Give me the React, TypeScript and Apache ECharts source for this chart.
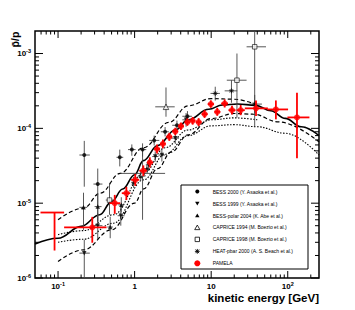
import React, { useEffect, useRef } from 'react';
import * as echarts from 'echarts';

// ---------- axes ----------
const X_MIN = 0.05;
const X_MAX = 256;
const Y_MIN = 1e-6;
const Y_MAX = 2e-3;
const X_MAJOR_TICKS = [0.1, 1, 10, 100];
const Y_MAJOR_TICKS = [1e-6, 1e-5, 1e-4, 1e-3];

// ---------- data: [E, ratio, E_lo, E_hi, ratio_lo, ratio_hi] ----------
const BESS_2000 = [
  [0.22, 4.4e-5, 0.19, 0.26, 1.66e-5, 6.8e-5],
  [0.33, 1.8e-5, 0.29, 0.38, 5.7e-6, 2.9e-5],
  [0.64, 4.1e-5, 0.58, 0.71, 3.1e-5, 5.2e-5],
  [0.92, 5.2e-5, 0.82, 1.03, 4.3e-5, 6.1e-5],
  [1.27, 5.2e-5, 1.12, 1.42, 4.2e-5, 6.3e-5],
  [1.8, 6.9e-5, 1.55, 2.1, 5.9e-5, 8.0e-5],
  [2.5, 9.0e-5, 2.2, 2.8, 7.8e-5, 1.04e-4],
  [3.57, 1.1e-4, 3.1, 4.1, 9.6e-5, 1.27e-4],
  [4.9, 1.45e-4, 4.2, 5.6, 1.25e-4, 1.7e-4],
];
const BESS_1999 = [
  [0.22, 2.15e-6, 0.19, 0.26, 1.0e-6, 3.25e-6],
  [0.33, 5.0e-6, 0.29, 0.38, 3.3e-6, 7.3e-6],
  [0.66, 6.8e-6, 0.6, 0.74, 5.0e-6, 9.2e-6],
  [1.52, 3.25e-5, 1.4, 1.65, 2.8e-5, 3.8e-5],
  [1.86, 4.2e-5, 1.7, 2.05, 3.6e-5, 4.9e-5],
  [2.27, 4.4e-5, 2.05, 2.5, 3.6e-5, 5.4e-5],
  [3.4, 7.4e-5, 3.0, 3.8, 6.2e-5, 8.8e-5],
  [4.7, 1.3e-4, 4.2, 5.3, 1.05e-4, 1.6e-4],
];
const BESS_POLAR_2004 = [
  [0.215, 8.8e-6, 0.19, 0.24, 4.4e-6, 1.38e-5],
  [0.33, 9.0e-6, 0.3, 0.37, 5.6e-6, 1.3e-5],
  [0.48, 4.8e-6, 0.44, 0.52, 3.4e-6, 6.6e-6],
  [0.67, 9.5e-6, 0.61, 0.73, 7.5e-6, 1.2e-5],
  [0.97, 1.9e-5, 0.9, 1.05, 1.6e-5, 2.25e-5],
  [1.2, 2.3e-5, 1.1, 1.3, 2.0e-5, 2.7e-5],
  [1.45, 2.9e-5, 1.33, 1.58, 2.55e-5, 3.3e-5],
];
const CAPRICE_1994 = [
  [1.27, 2.5e-5, 0.65, 2.5, 6.0e-6, 5.3e-5],
  [2.57, 1.94e-4, 1.86, 3.34, 1.43e-4, 3.52e-4],
];
const CAPRICE_1998 = [
  [0.47, 1.1e-5, 0.42, 0.53, 7.0e-6, 1.87e-5],
  [21.7, 4.4e-4, 16, 29, 1.39e-4, 1.0e-3],
  [37, 1.23e-3, 29, 52, 1.05e-4, 2.0e-3],
];
const HEAT_2000 = [
  [11.3, 2.93e-4, 9.8, 13.0, 2.35e-4, 3.6e-4],
  [18.4, 3.17e-4, 15.0, 21.9, 2.2e-4, 4.4e-4],
  [37, 2.11e-4, 31, 46, 1.6e-4, 2.8e-4],
];
const PAMELA = [
  [0.09, 7.5e-6, 0.059, 0.12, 2.33e-6, 7.5e-6],
  [0.28, 4.75e-6, 0.12, 0.43, 2.96e-6, 6.56e-6],
  [0.55, 1.0e-5, 0.47, 0.65, 7.2e-6, 1.29e-5],
  [0.78, 1.36e-5, 0.68, 0.88, 1.1e-5, 1.65e-5],
  [1.02, 2.05e-5, 0.9, 1.15, 1.7e-5, 2.45e-5],
  [1.3, 2.72e-5, 1.15, 1.45, 2.3e-5, 3.2e-5],
  [1.58, 3.5e-5, 1.45, 1.75, 3.0e-5, 4.1e-5],
  [1.96, 5.3e-5, 1.8, 2.15, 4.6e-5, 6.1e-5],
  [2.34, 6.2e-5, 2.15, 2.55, 5.4e-5, 7.1e-5],
  [2.84, 7.7e-5, 2.6, 3.1, 6.8e-5, 8.7e-5],
  [3.4, 9.1e-5, 3.1, 3.7, 8.1e-5, 1.02e-4],
  [4.03, 1.07e-4, 3.7, 4.4, 9.5e-5, 1.2e-4],
  [4.89, 1.21e-4, 4.5, 5.3, 1.08e-4, 1.36e-4],
  [5.73, 1.26e-4, 5.3, 6.2, 1.12e-4, 1.42e-4],
  [6.86, 1.21e-4, 6.3, 7.5, 1.07e-4, 1.37e-4],
  [8.2, 1.55e-4, 7.5, 9.0, 1.38e-4, 1.75e-4],
  [9.9, 2.11e-4, 9.0, 10.9, 1.88e-4, 2.37e-4],
  [12.0, 1.66e-4, 11.0, 13.2, 1.47e-4, 1.88e-4],
  [15.0, 2.15e-4, 13.5, 16.6, 1.9e-4, 2.44e-4],
  [18.7, 1.75e-4, 16.8, 20.8, 1.53e-4, 2.0e-4],
  [24.3, 1.75e-4, 21.5, 27.5, 1.5e-4, 2.05e-4],
  [38.5, 1.85e-4, 27.5, 55, 1.46e-4, 2.36e-4],
  [70, 1.79e-4, 54, 101, 1.32e-4, 2.36e-4],
  [132, 1.4e-4, 99, 192, 4.0e-5, 3.0e-4],
];

// ---------- model curves: [E, ratio] ----------
const CURVE_SOLID = [
  [0.05, 2.84e-6], [0.1, 3.4e-6], [0.2, 4.9e-6], [0.35, 7.0e-6], [0.5, 1.05e-5],
  [0.7, 1.55e-5], [1.0, 2.4e-5], [1.3, 3.7e-5], [2, 5.9e-5], [3.4, 9.5e-5],
  [5, 1.3e-4], [9.3, 1.8e-4], [14, 2.05e-4], [22, 2.12e-4], [38, 2.03e-4],
  [60, 1.72e-4], [93, 1.36e-4], [150, 1.05e-4], [256, 8.0e-5],
];
const CURVE_DASHED_UPPER = [
  [0.1, 6.0e-6], [0.215, 8.6e-6], [0.356, 1.36e-5], [0.65, 2.5e-5], [1.3, 5.5e-5],
  [2.8, 1.2e-4], [5, 2.0e-4], [10, 2.5e-4], [20, 2.45e-4], [40, 2.05e-4],
];
const CURVE_DASHED_LOWER = [
  [0.1, 1.66e-6], [0.215, 2.38e-6], [0.5, 4.4e-6], [1.0, 1.0e-5], [1.31, 1.55e-5],
  [2, 2.9e-5], [3, 4.8e-5], [5, 8.2e-5], [10, 1.35e-4], [20, 1.58e-4], [35, 1.55e-4],
  [76, 1.22e-4], [256, 6.6e-5],
];
const CURVE_DOTTED_UPPER = [
  [0.1, 3.8e-6], [0.215, 4.3e-6], [0.53, 7.0e-6], [1.31, 2.5e-5], [2.5, 5.5e-5],
  [5, 9.5e-5], [10, 1.3e-4], [20, 1.38e-4], [40, 1.3e-4],
];
const CURVE_DOTTED_LOWER = [
  [0.1, 3.0e-6], [0.215, 3.3e-6], [0.53, 5.4e-6], [1.31, 2.05e-5], [2.5, 4.5e-5],
  [5, 8.0e-5], [10, 1.08e-4], [20, 1.12e-4], [40, 1.05e-4], [93, 8.6e-5], [256, 4.4e-5],
];

const LEGEND_LABELS = [
  'BESS 2000 (Y. Asaoka et al.)',
  'BESS 1999 (Y. Asaoka et al.)',
  'BESS-polar 2004 (K. Abe et al.)',
  'CAPRICE 1994 (M. Boezio et al.)',
  'CAPRICE 1998 (M. Boezio et al.)',
  'HEAT-pbar 2000 (A. S. Beach et al.)',
  'PAMELA',
];

const FONT = '"Liberation Sans", Arial, Helvetica, sans-serif';
const RED = '#ff0000';

function minorTicks(min: number, max: number, majors: number[]) {
  const out: number[] = [];
  for (let d = Math.floor(Math.log10(min)); d <= Math.ceil(Math.log10(max)); d++) {
    for (let k = 2; k <= 9; k++) {
      const v = k * Math.pow(10, d);
      if (v > min && v < max && !majors.includes(v)) out.push(v);
    }
  }
  return out;
}

const errBars = (color: string, width: number) => (params: any, api: any) => {
  const x = api.value(0);
  const y = api.value(1);
  const a = api.coord([api.value(2), y]);
  const b = api.coord([api.value(3), y]);
  const c = api.coord([x, api.value(4)]);
  const d = api.coord([x, api.value(5)]);
  const style = { stroke: color, lineWidth: width };
  return {
    type: 'group',
    children: [
      { type: 'line', shape: { x1: a[0], y1: a[1], x2: b[0], y2: b[1] }, style },
      { type: 'line', shape: { x1: c[0], y1: c[1], x2: d[0], y2: d[1] }, style },
    ],
  };
};

const ticksRender = (params: any, api: any) => {
  const cs = params.coordSys;
  const L = cs.x, R = cs.x + cs.width, T = cs.y, B = cs.y + cs.height;
  const ch: any[] = [];
  const ln = (x1: number, y1: number, x2: number, y2: number) =>
    ch.push({ type: 'line', shape: { x1, y1, x2, y2 }, style: { stroke: '#000', lineWidth: 1 } });
  const xMinor = minorTicks(X_MIN, X_MAX, X_MAJOR_TICKS);
  const yMinor = minorTicks(Y_MIN, Y_MAX, Y_MAJOR_TICKS);
  X_MAJOR_TICKS.forEach((v) => { const p = api.coord([v, Y_MIN])[0]; ln(p, B, p, B - 7); ln(p, T, p, T + 7); });
  xMinor.forEach((v) => { const p = api.coord([v, Y_MIN])[0]; ln(p, B, p, B - 3.5); ln(p, T, p, T + 3.5); });
  Y_MAJOR_TICKS.forEach((v) => { const p = api.coord([X_MIN, v])[1]; ln(L, p, L + 8, p); ln(R, p, R - 8, p); });
  yMinor.forEach((v) => { const p = api.coord([X_MIN, v])[1]; ln(L, p, L + 4, p); ln(R, p, R - 4, p); });
  return { type: 'group', children: ch };
};

const powLabel = (v: number) => {
  const l = Math.log10(v);
  const e = Math.round(l);
  if (Math.abs(l - e) > 1e-6) return '';
  if (e === 0) return '{b|1}';
  if (e === 1) return '{b|10}';
  return `{b|10}{s|${e}}`;
};
const labelRich = {
  b: { fontSize: 8, fontWeight: 'bold', fontFamily: FONT, color: '#000', lineHeight: 11 },
  s: { fontSize: 5.5, fontWeight: 'bold', fontFamily: FONT, color: '#000', lineHeight: 5, verticalAlign: 'top' },
};

const curve = (data: number[][], width: number, type: any) => ({
  type: 'line',
  data,
  symbol: 'none',
  smooth: 0.4,
  smoothMonotone: 'x',
  lineStyle: { color: '#000', width, type },
  z: 1,
  silent: true,
});

const errSeries = (data: number[][], color: string, width: number) => ({
  type: 'custom',
  data,
  encode: { x: 0, y: 1 },
  renderItem: errBars(color, width),
  clip: true,
  z: 2,
  silent: true,
});

const markSeries = (data: number[][], extra: any) => ({
  type: 'scatter',
  data: data.map((p) => [p[0], p[1]]),
  z: 3,
  silent: true,
  ...extra,
});

const HEAT_SYMBOL = 'path://M10,0L10,20M0,10L20,10M3,3L17,17M3,17L17,3';

function legendGraphic() {
  const bx = 181, by = 185, bw = 127, bh = 84;
  const sx = 197.3, tx = 212.7, y0 = 191.6, dy = 11.95;
  const children: any[] = [
    { type: 'rect', shape: { x: bx, y: by, width: bw, height: bh }, style: { fill: '#fff', stroke: '#000', lineWidth: 1 } },
  ];
  const ys = LEGEND_LABELS.map((_, i) => y0 + i * dy);
  const blk = { fill: '#000' };
  const open = { fill: '#fff', stroke: '#000', lineWidth: 0.8 };
  children.push({ type: 'circle', shape: { cx: sx, cy: ys[0], r: 2 }, style: blk });
  children.push({ type: 'polygon', shape: { points: [[sx - 2.2, ys[1] - 1.8], [sx + 2.2, ys[1] - 1.8], [sx, ys[1] + 2]] }, style: blk });
  children.push({ type: 'polygon', shape: { points: [[sx - 2.2, ys[2] + 1.8], [sx + 2.2, ys[2] + 1.8], [sx, ys[2] - 2]] }, style: blk });
  children.push({ type: 'polygon', shape: { points: [[sx - 2.6, ys[3] + 2.2], [sx + 2.6, ys[3] + 2.2], [sx, ys[3] - 2.4]] }, style: open });
  children.push({ type: 'rect', shape: { x: sx - 2.2, y: ys[4] - 2.2, width: 4.4, height: 4.4 }, style: open });
  const a = 2.4, h = ys[5];
  [[sx - a, h, sx + a, h], [sx, h - a, sx, h + a], [sx - 1.8, h - 1.8, sx + 1.8, h + 1.8], [sx - 1.8, h + 1.8, sx + 1.8, h - 1.8]].forEach((l) =>
    children.push({ type: 'line', shape: { x1: l[0], y1: l[1], x2: l[2], y2: l[3] }, style: { stroke: '#000', lineWidth: 0.9 } })
  );
  children.push({ type: 'circle', shape: { cx: sx, cy: ys[6], r: 3 }, style: { fill: RED } });
  LEGEND_LABELS.forEach((t, i) =>
    children.push({
      type: 'text',
      x: tx,
      y: ys[i],
      style: { text: t, fontSize: 5, fontFamily: FONT, fill: '#000', align: 'left', verticalAlign: 'middle' },
    })
  );
  return { type: 'group', z: 100, children };
}

export default function App() {
  const ref = useRef<HTMLDivElement>(null);
  useEffect(() => {
    const chart = echarts.init(ref.current!, null, { renderer: 'svg' });
    const option: any = {
      animation: false,
      textStyle: { fontFamily: FONT },
      grid: { left: 35, right: 36, top: 31, bottom: 32, show: true, borderColor: '#000', borderWidth: 1.5, backgroundColor: 'transparent' },
      xAxis: {
        type: 'log',
        logBase: 10,
        min: X_MIN,
        max: X_MAX,
        axisLine: { show: false },
        axisTick: { show: false },
        splitLine: { show: false },
        axisLabel: { formatter: powLabel, rich: labelRich, margin: 3, showMinLabel: true, showMaxLabel: true },
      },
      yAxis: {
        type: 'log',
        logBase: 10,
        min: Y_MIN,
        max: Y_MAX,
        axisLine: { show: false },
        axisTick: { show: false },
        splitLine: { show: false },
        axisLabel: { formatter: powLabel, rich: labelRich, margin: 4, showMinLabel: true, showMaxLabel: true },
      },
      series: [
        curve(CURVE_DOTTED_UPPER, 1.1, [1.5, 1.5]),
        curve(CURVE_DOTTED_LOWER, 1.1, [1.5, 1.5]),
        curve(CURVE_DASHED_UPPER, 1.2, [4, 2.5]),
        curve(CURVE_DASHED_LOWER, 1.2, [4, 2.5]),
        curve(CURVE_SOLID, 1.6, 'solid'),
        errSeries(BESS_2000, '#444', 0.9),
        errSeries(BESS_1999, '#444', 0.9),
        errSeries(BESS_POLAR_2004, '#444', 0.9),
        errSeries(CAPRICE_1994, '#444', 0.9),
        errSeries(CAPRICE_1998, '#444', 0.9),
        errSeries(HEAT_2000, '#444', 0.9),
        markSeries(BESS_2000, { symbol: 'circle', symbolSize: 4, itemStyle: { color: '#000' } }),
        markSeries(BESS_1999, { symbol: 'triangle', symbolRotate: 180, symbolSize: 4.5, itemStyle: { color: '#000' } }),
        markSeries(BESS_POLAR_2004, { symbol: 'triangle', symbolSize: 4.5, itemStyle: { color: '#000' } }),
        markSeries(CAPRICE_1994, { symbol: 'triangle', symbolSize: 5.5, itemStyle: { color: '#fff', borderColor: '#000', borderWidth: 0.8 } }),
        markSeries(CAPRICE_1998, { symbol: 'rect', symbolSize: 4.5, itemStyle: { color: '#fff', borderColor: '#000', borderWidth: 0.8 } }),
        markSeries(HEAT_2000, { symbol: HEAT_SYMBOL, symbolSize: 5, itemStyle: { color: '#000', borderColor: '#000', borderWidth: 0.9 } }),
        { ...errSeries(PAMELA, RED, 1.8), z: 4 },
        {
          type: 'scatter',
          z: 5,
          silent: true,
          data: PAMELA.map((p) => ({ value: [p[0], p[1]], symbolSize: p[5] === p[1] ? 0 : 6 })),
          symbol: 'circle',
          itemStyle: { color: RED },
        },
        {
          type: 'custom',
          data: [[1, 1e-5]],
          encode: { x: 0, y: 1 },
          renderItem: ticksRender,
          silent: true,
          z: 6,
        },
      ],
      graphic: [
        {
          type: 'text',
          x: 15,
          y: 39.5,
          rotation: Math.PI / 2,
          style: { text: 'p\u0304/p', fontSize: 10.5, fontWeight: 'bold', fontFamily: FONT, fill: '#000', align: 'center', verticalAlign: 'middle' },
        },
        {
          type: 'text',
          x: 319,
          y: 297.5,
          style: { text: 'kinetic energy [GeV]', fontSize: 11.5, fontWeight: 'bold', fontFamily: FONT, fill: '#000', align: 'right', verticalAlign: 'middle' },
        },
        legendGraphic(),
      ],
    };
    chart.setOption(option);
    return () => chart.dispose();
  }, []);
  return <div ref={ref} style={{ position: 'absolute', left: 0, top: 0, width: 355, height: 310 }} />;
}
